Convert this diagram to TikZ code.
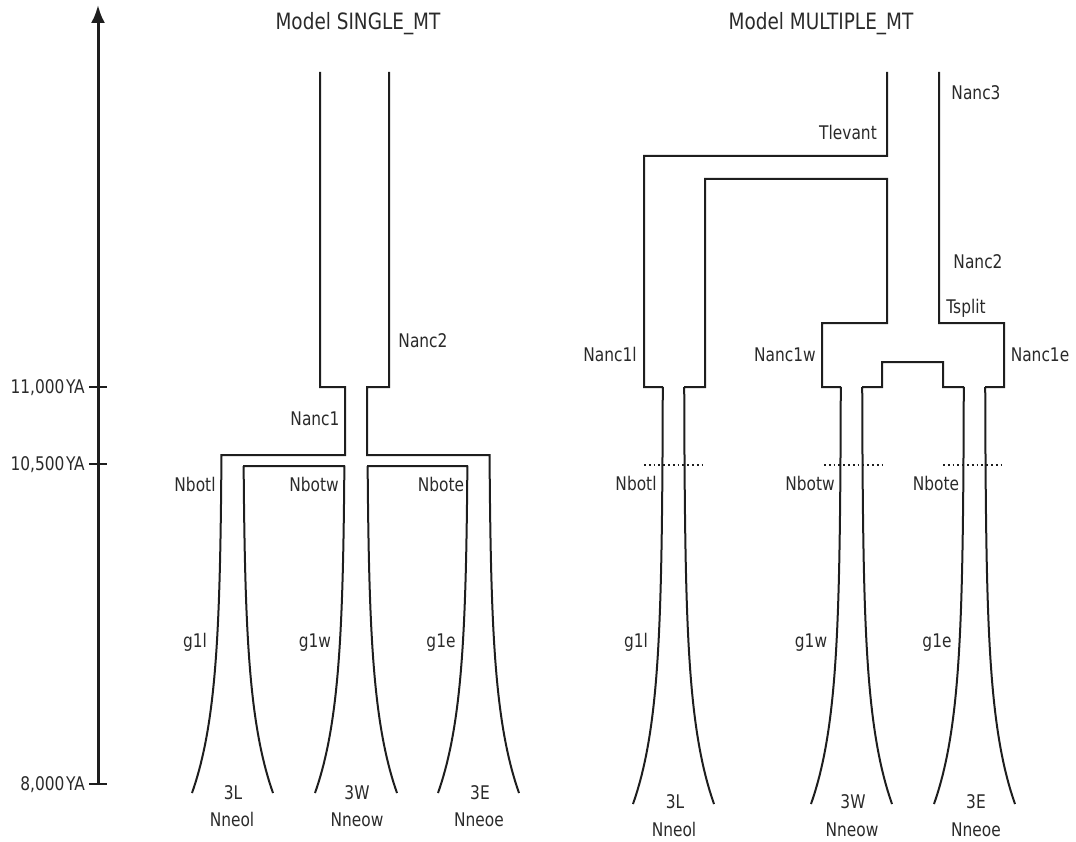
\documentclass[tikz,border=0pt]{standalone}
\usepackage{fontspec}
\setmainfont{DejaVu Sans}[FakeStretch=0.82]
\usetikzlibrary{arrows.meta}
\definecolor{ink}{HTML}{1E1E1E}
\definecolor{txt}{HTML}{2A2A2A}
\begin{document}
\begin{tikzpicture}[x=1pt,y=-1pt,
  pop/.style={draw=ink,line width=2pt,line join=miter},
  axisline/.style={draw=ink,line width=3pt,-{Latex[length=18pt,width=14pt]}},
  tickline/.style={draw=ink,line width=2.6pt},
  dotline/.style={draw=ink,line width=1.6pt,dash pattern=on 1.8pt off 3pt},
  lab/.style={anchor=base,inner sep=0pt,text=txt,font=\fontsize{18.8}{20}\selectfont},
  ttl/.style={anchor=base,inner sep=0pt,text=txt,font=\fontsize{22.5}{24}\selectfont},
  ylab/.style={anchor=base east,inner sep=0pt,text=txt,font=\fontsize{18.8}{20}\selectfont},
  declare function={fa(\t)=30*exp((\t-793)/85); fb(\t)=30*exp((\t-804)/85);}
]
\useasboundingbox (0,0) rectangle (1076,842);

% ---------- time axis ----------
\coordinate (axbot) at (98,784);
\coordinate (axtop) at (98,5);
\draw[axisline] (axbot) -- (axtop);
\coordinate (t1a) at (89,387); \coordinate (t1b) at (107,387);
\coordinate (t2a) at (89,464); \coordinate (t2b) at (107,464);
\coordinate (t3a) at (89,784); \coordinate (t3b) at (107,784);
\draw[tickline] (t1a) -- (t1b);
\draw[tickline] (t2a) -- (t2b);
\draw[tickline] (t3a) -- (t3b);
\node[ylab] (y11) at (85,393.5) {11,000\kern1.5pt YA};
\node[ylab] (y105) at (85,470.5) {10,500\kern1.5pt YA};
\node[ylab] (y8) at (85,790.5) {8,000\kern1.5pt YA};

% ---------- titles ----------
\node[ttl] (title1) at (358,30) {Model SINGLE\_MT};
\node[ttl] (title2) at (821,30) {Model MULTIPLE\_MT};

% ---------- model SINGLE_MT ----------
\draw[pop] (320,72) -- (320,387) -- (345,387) -- (345,455) -- (222,455)
  -- plot[domain=455:793,samples=60,variable=\t] ({222-fa(\t)},{\t});
\draw[pop] (389,72) -- (389,387) -- (367,387) -- (367,455) -- (489,455)
  -- plot[domain=455:793,samples=60,variable=\t] ({489+fa(\t)},{\t});
\draw[pop] plot[domain=793:466,samples=60,variable=\t] ({243+fa(\t)},{\t})
  -- (243,466) -- (345,466)
  -- plot[domain=466:793,samples=60,variable=\t] ({345-fa(\t)},{\t});
\draw[pop] plot[domain=793:466,samples=60,variable=\t] ({367+fa(\t)},{\t})
  -- (367,466) -- (468,466)
  -- plot[domain=466:793,samples=60,variable=\t] ({468-fa(\t)},{\t});

\node[lab] (sNanc2) at (423,347) {Nanc2};
\node[lab] (sNanc1) at (315,425) {Nanc1};
\node[lab] (sNbotl) at (195,491) {Nbotl};
\node[lab] (sNbotw) at (314,491) {Nbotw};
\node[lab] (sNbote) at (441,491) {Nbote};
\node[lab] (sg1l) at (195,647) {g1l};
\node[lab] (sg1w) at (315,647) {g1w};
\node[lab] (sg1e) at (441,647) {g1e};
\node[lab] (s3L) at (233,799.5) {3L};
\node[lab] (s3W) at (357,799.5) {3W};
\node[lab] (s3E) at (480,799.5) {3E};
\node[lab] (sNneol) at (232,826.5) {Nneol};
\node[lab] (sNneow) at (357,826.5) {Nneow};
\node[lab] (sNneoe) at (479,826.5) {Nneoe};

% ---------- model MULTIPLE_MT ----------
\draw[pop] (887,72) -- (887,156) -- (644,156) -- (644,387) -- (663,387)
  -- plot[domain=387:804,samples=60,variable=\t] ({663-fb(\t)},{\t});
\draw[pop] plot[domain=804:387,samples=60,variable=\t] ({684+fb(\t)},{\t})
  -- (684,387) -- (705,387) -- (705,179) -- (887,179) -- (887,323)
  -- (822,323) -- (822,387) -- (841,387)
  -- plot[domain=387:804,samples=60,variable=\t] ({841-fb(\t)},{\t});
\draw[pop] plot[domain=804:387,samples=60,variable=\t] ({862+fb(\t)},{\t})
  -- (862,387) -- (882,387) -- (882,362) -- (943,362) -- (943,387) -- (964,387)
  -- plot[domain=387:804,samples=60,variable=\t] ({964-fb(\t)},{\t});
\draw[pop] (939,72) -- (939,323) -- (1004,323) -- (1004,387) -- (985,387)
  -- plot[domain=387:804,samples=60,variable=\t] ({985+fb(\t)},{\t});

\coordinate (d1a) at (644,465); \coordinate (d1b) at (705,465);
\coordinate (d2a) at (824,465); \coordinate (d2b) at (884,465);
\coordinate (d3a) at (943,465); \coordinate (d3b) at (1004,465);
\draw[dotline] (d1a) -- (d1b);
\draw[dotline] (d2a) -- (d2b);
\draw[dotline] (d3a) -- (d3b);

\node[lab] (mNanc3) at (976,99.5) {Nanc3};
\node[lab] (mTlevant) at (848,139.5) {Tlevant};
\node[lab] (mNanc2) at (978,268.5) {Nanc2};
\node[lab] (mTsplit) at (966,313.5) {Tsplit};
\node[lab] (mNanc1l) at (610,361.5) {Nanc1l};
\node[lab] (mNanc1w) at (785,361.5) {Nanc1w};
\node[lab] (mNanc1e) at (1040,361.5) {Nanc1e};
\node[lab] (mNbotl) at (636,490.5) {Nbotl};
\node[lab] (mNbotw) at (810,490.5) {Nbotw};
\node[lab] (mNbote) at (936,490.5) {Nbote};
\node[lab] (mg1l) at (636,647) {g1l};
\node[lab] (mg1w) at (811,647) {g1w};
\node[lab] (mg1e) at (937,647) {g1e};
\node[lab] (m3L) at (675,808.5) {3L};
\node[lab] (m3W) at (853,808.5) {3W};
\node[lab] (m3E) at (976,808.5) {3E};
\node[lab] (mNneol) at (674,836.5) {Nneol};
\node[lab] (mNneow) at (852,836.5) {Nneow};
\node[lab] (mNneoe) at (976,836.5) {Nneoe};
\end{tikzpicture}
\end{document}
